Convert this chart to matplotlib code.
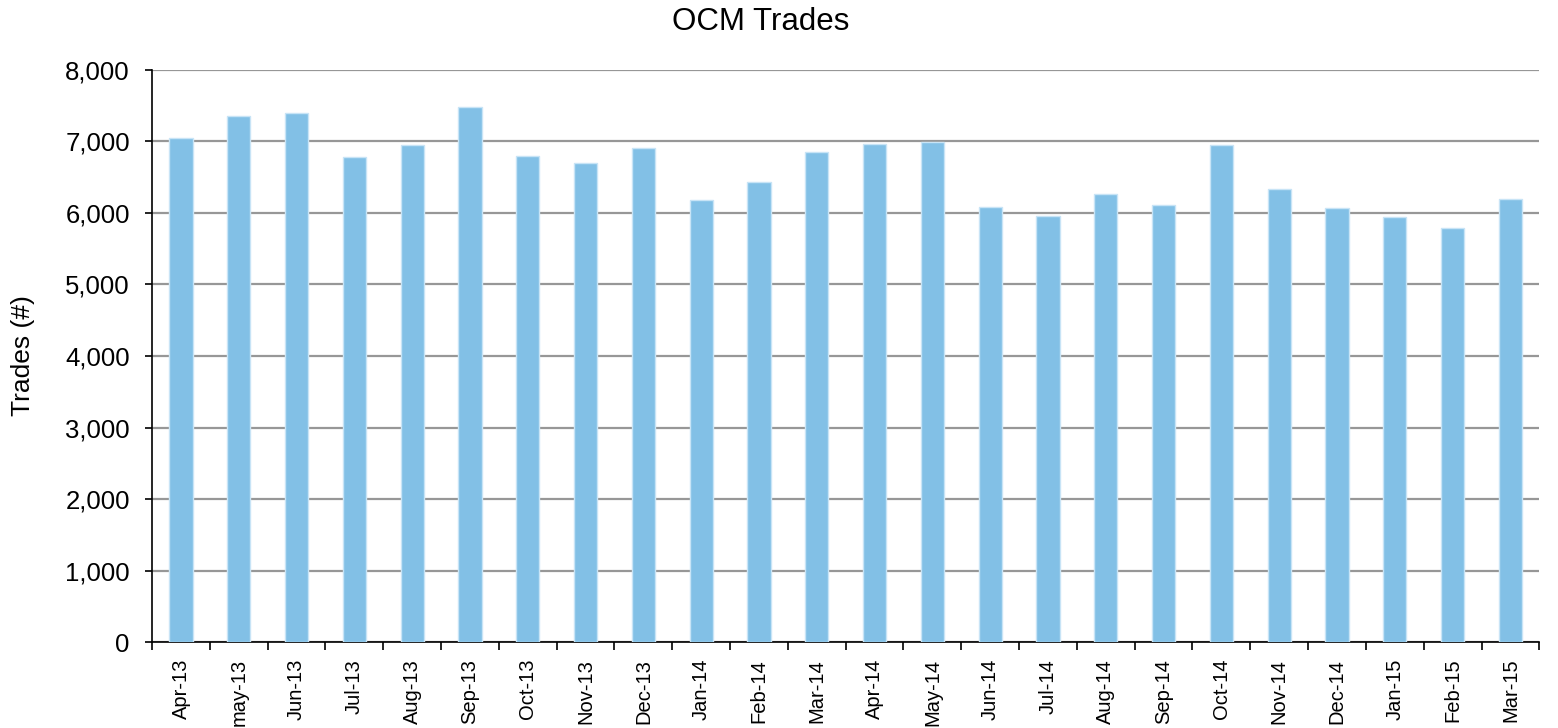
import numpy as np
import matplotlib.pyplot as plt
from matplotlib.ticker import FuncFormatter, FixedLocator, NullFormatter

plt.rcParams['font.family'] = ['Liberation Sans', 'DejaVu Sans']

months = ["Apr-13", "may-13", "Jun-13", "Jul-13", "Aug-13", "Sep-13", "Oct-13", "Nov-13",
          "Dec-13", "Jan-14", "Feb-14", "Mar-14", "Apr-14", "May-14", "Jun-14", "Jul-14",
          "Aug-14", "Sep-14", "Oct-14", "Nov-14", "Dec-14", "Jan-15", "Feb-15", "Mar-15"]
trades = [7050, 7355, 7395, 6780, 6945, 7480, 6800, 6695,
          6910, 6175, 6430, 6855, 6960, 6990, 6090, 5960,
          6265, 6105, 6945, 6340, 6070, 5945, 5785, 6195]

fig = plt.figure(figsize=(15.58, 7.28), dpi=100)
ax = fig.add_axes([0.0976, 0.118, 0.8904, 0.786])

x = np.arange(len(months))
ax.bar(x, trades, width=0.4, color="#82C0E6", edgecolor="#C8E4F6", linewidth=1, zorder=3)

ax.set_xlim(-0.5, len(months) - 0.5)
ax.set_ylim(0, 8000)
ax.set_yticks(np.arange(0, 8001, 1000))
ax.yaxis.set_major_formatter(FuncFormatter(lambda v, p: f"{int(v):,}"))
ax.yaxis.grid(True, color="#979797", linewidth=1.6, zorder=0)

ax.set_xticks(x)
ax.set_xticklabels(months, rotation=90, fontsize=14.5)
ax.tick_params(axis="x", which="major", length=0, pad=12)
ax.xaxis.set_minor_locator(FixedLocator(np.arange(-0.5, len(months), 1.0)))
ax.xaxis.set_minor_formatter(NullFormatter())
ax.tick_params(axis="x", which="minor", length=6, width=1.2, color="black")
ax.tick_params(axis="y", length=5, width=1.2, labelsize=18.5, pad=11)

for s in ["top", "right"]:
    ax.spines[s].set_visible(False)
ax.spines["left"].set_linewidth(1.2)
ax.spines["bottom"].set_linewidth(1.2)

ax.set_ylabel("Trades (#)", fontsize=19, labelpad=22)
# title sits a bit left of the axes centre in the original
fig.text(0.488, 0.97, "OCM Trades", fontsize=22.5, ha="center", va="center")

fig.savefig("out.png", dpi=100)
